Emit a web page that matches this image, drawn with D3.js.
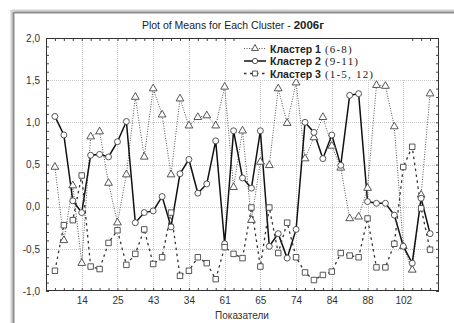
<!DOCTYPE html>
<html>
<head>
<meta charset="utf-8">
<script src="https://cdn.jsdelivr.net/npm/d3@7"></script>
<style>
  body { margin: 0; background: #fff; }
  svg { display: block; font-family: "Liberation Sans", Arial, sans-serif; }
</style>
</head>
<body>
<svg id="chart" width="454" height="323"></svg>
<script>
// category positions 1..43, labelled every fourth one
const points = d3.range(1, 44);
const tickPositions = [4, 8, 12, 16, 20, 24, 28, 32, 36, 40];
const tickLabels = ["14", "25", "43", "34", "61", "65", "74", "84", "88", "102"];

const cluster1 = [0.47, -0.40, 0.25, -0.67, 0.83, 0.89, 0.28, -0.19, 0.38, 1.30, 0.59, 1.40, 1.09, 0.38, 1.28, 0.96, 1.06, 1.08, 0.96, 1.42, 0.23, 0.90, -0.16, 0.53, 0.49, 1.40, 0.99, 1.47, 0.57, 0.82, 1.06, 0.72, 0.46, -0.14, -0.12, 0.22, 1.44, 1.43, 0.95, -0.47, -0.75, 0.14, 1.34];
const cluster2 = [1.07, 0.85, 0.07, -0.07, 0.61, 0.62, 0.59, 0.77, 1.01, -0.19, -0.07, -0.05, 0.12, -0.24, 0.39, 0.56, 0.16, 0.27, 0.78, -0.44, 0.90, 0.34, 0.22, 0.90, -0.47, -0.32, -0.61, -0.27, 1.00, 0.88, 0.57, 0.85, 0.49, 1.32, 1.34, 0.06, 0.04, 0.04, -0.10, -0.47, -0.67, 0.10, -0.32];
const cluster3 = [-0.76, -0.22, -0.16, 0.37, -0.71, -0.74, -0.43, -0.28, -0.69, -0.56, -0.27, -0.68, -0.60, -0.07, -0.82, -0.76, -0.60, -0.67, -0.86, -0.48, -0.56, -0.61, -0.01, -0.71, -0.01, -0.55, -0.19, -0.60, -0.78, -0.87, -0.81, -0.77, -0.55, -0.58, -0.60, -0.14, -0.72, -0.72, -0.44, 0.47, 0.71, -0.02, -0.51];

const seriesNames = ["Кластер 1", "Кластер 2", "Кластер 3"];
const seriesNotes = ["(6-8)", "(9-11)", "(1-5, 12)"];
const yTicks = [-1, -0.5, 0, 0.5, 1, 1.5, 2];

const svg = d3.select("#chart");
const plotLeft = 46, plotRight = 439, plotTop = 38, plotBottom = 291;

const x = d3.scaleLinear().domain([0, 44]).range([plotLeft, plotRight]);
const y = d3.scaleLinear().domain([-1, 2]).range([plotBottom, plotTop]);

const fmt = d3.formatLocale({ decimal: ",", thousands: " ", grouping: [3], currency: ["", ""], minus: "-" }).format(".1f");

// outer panel border (top and left)
svg.append("line").attr("x1", 12).attr("x2", 454).attr("y1", 10.5).attr("y2", 10.5).attr("stroke", "#d0d0d0").attr("stroke-width", 2);
svg.append("line").attr("x1", 14).attr("x2", 454).attr("y1", 12.5).attr("y2", 12.5).attr("stroke", "#8c8c8c").attr("stroke-width", 2);
svg.append("line").attr("x1", 11.5).attr("x2", 11.5).attr("y1", 10).attr("y2", 323).attr("stroke", "#d0d0d0").attr("stroke-width", 2);
svg.append("line").attr("x1", 13.5).attr("x2", 13.5).attr("y1", 12).attr("y2", 323).attr("stroke", "#8c8c8c").attr("stroke-width", 2);

// title
const title = svg.append("text")
    .attr("x", 233).attr("y", 29)
    .attr("text-anchor", "middle")
    .attr("font-size", 10.5)
    .attr("fill", "#222");
title.append("tspan").text("Plot of Means for Each Cluster - ");
title.append("tspan").attr("font-weight", "bold").attr("font-size", 11.5).text("2006г");

// grid
const grid = svg.append("g").attr("stroke", "#c8c8c8").attr("stroke-width", 1).attr("stroke-dasharray", "1,1");
grid.selectAll(".gy").data(yTicks.slice(1, -1)).join("line")
    .attr("x1", plotLeft).attr("x2", plotRight)
    .attr("y1", d => Math.round(y(d)) + 0.5).attr("y2", d => Math.round(y(d)) + 0.5);
grid.selectAll(".gx").data(tickPositions).join("line")
    .attr("x1", d => Math.round(x(d)) + 0.5).attr("x2", d => Math.round(x(d)) + 0.5)
    .attr("y1", plotTop).attr("y2", plotBottom);

// axes: minor inward ticks on all four sides
const minorY = d3.range(-10, 21).map(d => d / 10);
svg.append("g").attr("transform", `translate(${plotLeft},0)`)
    .call(d3.axisLeft(y).tickValues(minorY).tickSize(-3).tickFormat(""))
    .call(g => g.select(".domain").remove());
svg.append("g").attr("transform", `translate(${plotRight},0)`)
    .call(d3.axisRight(y).tickValues(minorY).tickSize(-3).tickFormat(""))
    .call(g => g.select(".domain").remove());
svg.append("g").attr("transform", `translate(0,${plotTop})`)
    .call(d3.axisTop(x).tickValues(points).tickSize(-3).tickFormat(""))
    .call(g => g.select(".domain").remove());
svg.append("g").attr("transform", `translate(0,${plotBottom})`)
    .call(d3.axisBottom(x).tickValues(points).tickSize(-3).tickFormat(""))
    .call(g => g.select(".domain").remove());
svg.selectAll(".tick line").attr("stroke", "#444");

// labels
svg.append("g").attr("transform", `translate(${plotLeft},0)`)
    .call(d3.axisLeft(y).tickValues(yTicks).tickSize(0).tickPadding(6).tickFormat(fmt))
    .call(g => g.select(".domain").remove())
    .call(g => g.selectAll("text").attr("font-size", 10).attr("fill", "#333").attr("font-family", "Liberation Sans, Arial, sans-serif"));
svg.append("g").attr("transform", `translate(0,${plotBottom})`)
    .call(d3.axisBottom(x).tickValues(tickPositions).tickSize(0).tickPadding(6).tickFormat((d, i) => tickLabels[i]))
    .call(g => g.select(".domain").remove())
    .call(g => g.selectAll("text").attr("font-size", 10).attr("fill", "#333").attr("font-family", "Liberation Sans, Arial, sans-serif"));

svg.append("text").attr("x", 242).attr("y", 319).attr("text-anchor", "middle")
    .attr("font-size", 10).attr("fill", "#333").text("Показатели");

// plot frame
svg.append("rect").attr("x", plotLeft + 0.5).attr("y", plotTop + 0.5)
    .attr("width", plotRight - plotLeft - 1).attr("height", plotBottom - plotTop - 1)
    .attr("fill", "none").attr("stroke", "#333");

// series
const series = [
    { values: cluster1, dash: "1,1.5", width: 1, color: "#555", shape: d3.symbolTriangle, size: 26 },
    { values: cluster2, dash: null, width: 1.5, color: "#111", shape: d3.symbolCircle, size: 28 },
    { values: cluster3, dash: "2.5,3.5", width: 1.3, color: "#333", shape: d3.symbolSquare, size: 30 }
];

const line = d3.line().x((d, i) => x(points[i])).y(d => y(d));

series.forEach(s => {
    svg.append("path").datum(s.values)
        .attr("d", line)
        .attr("fill", "none")
        .attr("stroke", s.color)
        .attr("stroke-width", s.width)
        .attr("stroke-dasharray", s.dash);
});
series.forEach(s => {
    svg.append("g").selectAll("path").data(s.values).join("path")
        .attr("transform", (d, i) => `translate(${x(points[i])},${y(d)})`)
        .attr("d", d3.symbol().type(s.shape).size(s.size))
        .attr("fill", "#fff")
        .attr("stroke", "#444")
        .attr("stroke-width", 0.9);
});

// legend
const legend = svg.append("g");
legend.append("rect").attr("x", 238).attr("y", 39).attr("width", 170).attr("height", 40).attr("fill", "#fff");
const names = [];
series.forEach((s, i) => {
    const ly = 48.5 + i * 12.5;
    legend.append("line").attr("x1", 244).attr("x2", 266).attr("y1", ly).attr("y2", ly)
        .attr("stroke", s.color).attr("stroke-width", s.width).attr("stroke-dasharray", s.dash);
    legend.append("path").attr("transform", `translate(255,${ly})`)
        .attr("d", d3.symbol().type(s.shape).size(s.size - 6))
        .attr("fill", "#fff").attr("stroke", "#444").attr("stroke-width", 0.9);
    names.push(legend.append("text").attr("x", 270).attr("y", ly + 4)
        .attr("font-size", 10.5).attr("font-weight", "bold").attr("fill", "#222").text(seriesNames[i]));
});
const noteX = 270 + d3.max(names, t => t.node().getComputedTextLength()) + 4;
seriesNotes.forEach((n, i) => {
    legend.append("text").attr("x", noteX).attr("y", 52.5 + i * 12.5)
        .attr("font-size", 11).attr("letter-spacing", 1.2)
        .attr("font-family", "Liberation Serif, Times New Roman, serif").attr("fill", "#222").text(n);
});
</script>
</body>
</html>
